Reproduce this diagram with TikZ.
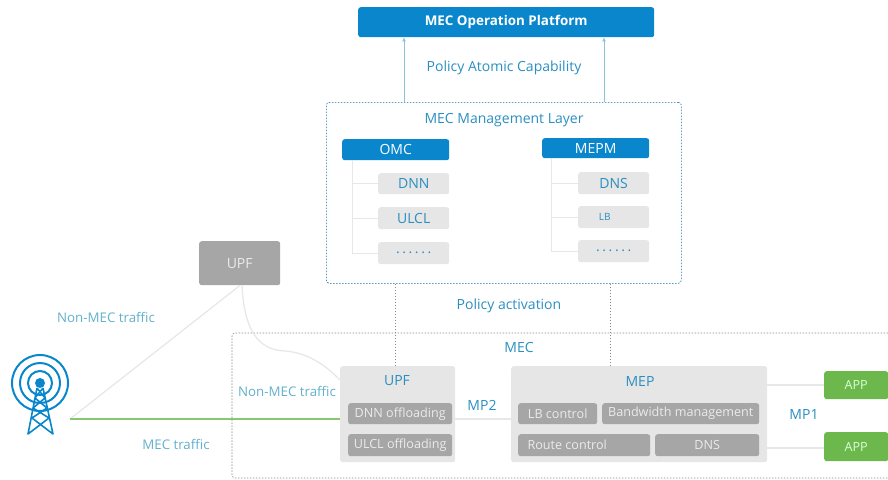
\documentclass[tikz,border=0pt]{standalone}
\usepackage{fontspec}
\usetikzlibrary{arrows.meta}
\setmainfont{Open Sans}
\definecolor{blueA}{HTML}{0A87CC}
\definecolor{labelA}{HTML}{2A8FC0}
\definecolor{labelB}{HTML}{62B0CC}
\definecolor{greyA}{HTML}{E6E6E6}
\definecolor{greyB}{HTML}{A6A6A6}
\definecolor{greenA}{HTML}{6CB84C}
\definecolor{lineA}{HTML}{E6E8E8}
\definecolor{dashA}{HTML}{8A8A8A}
\newcommand{\bx}[7]{\node[#6,anchor=north west,minimum width=#4pt-#2pt,minimum height=#5pt-#3pt,inner sep=0pt] (#1) at (#2,#3) {#7};}
\newcommand{\sixdots}{.\hspace{2.6pt}.\hspace{2.6pt}.\hspace{2.6pt}.\hspace{2.6pt}.\hspace{2.6pt}.}
\tikzset{
  x=1pt,y=-1pt,
  every node/.style={font=\fontsize{14}{16}\selectfont},
  blueBox/.style={fill=blueA,rounded corners=2.5pt,text=white},
  lightBox/.style={fill=greyA,rounded corners=2.5pt,text=labelA},
  midBox/.style={fill=greyB,rounded corners=2.5pt,text=white!92!black},
  smallText/.style={font=\fontsize{12.6}{15}\selectfont},
  appBox/.style={fill=greenA,rounded corners=2.5pt,text=white!85!green},
  lbl/.style={text=labelA},
  lblB/.style={text=labelB,font=\fontsize{13.3}{15}\selectfont},
  thin line/.style={draw=lineA,line width=0.8pt},
  conn/.style={draw=lineA,line width=1.3pt},
  mgmtdash/.style={draw=blueA!80!black,dash pattern=on 1.5pt off 1.5pt,line width=0.6pt,rounded corners=3pt},
  mecdash/.style={draw=dashA,dash pattern=on 1.5pt off 1.5pt,line width=0.6pt},
  tw/.style={draw=blueA,line width=2pt},
}
\begin{document}
\begin{tikzpicture}
\useasboundingbox (0,0) rectangle (888,479);
% MEC container
\node[coordinate] (mecTL) at (232,333) {};
\node[coordinate] (mecBL) at (232,478) {};
\draw[mecdash,rounded corners=3pt] (888,333) -- (mecTL) -- (mecBL) -- (888,478);
% Platform
\bx{platform}{358}{7}{654}{37}{blueBox,font=\fontsize{13.4}{16}\selectfont}{\bfseries MEC Operation Platform}
% Management layer
\bx{mgmt}{326}{102}{681}{283}{mgmtdash}{}
\node[lbl] (mgmtT) at (504,120) {MEC Management Layer};
\node[lbl] (pac) at (504,68) {Policy Atomic Capability};
\coordinate (a1) at (404,0);
\coordinate (a2) at (604,0);
\draw[draw=labelA!55,line width=1pt,-{Latex[length=4pt,width=4pt]}] (a1 |- mgmt.north) -- (a1 |- platform.south);
\draw[draw=labelA!55,line width=1pt,-{Latex[length=4pt,width=4pt]}] (a2 |- mgmt.north) -- (a2 |- platform.south);
% OMC column
\bx{omc}{342}{139}{449}{160}{blueBox}{OMC}
\bx{dnn}{378}{173}{449}{194}{lightBox}{DNN}
\bx{ulcl}{378}{207}{449}{229}{lightBox}{ULCL}
\bx{dotsA}{378}{242}{449}{264}{lightBox}{\sixdots}
\coordinate (t1) at (352,0);
\draw[thin line] (t1 |- omc.south) |- (dotsA.west);
\draw[thin line] (t1 |- dnn.west) -- (dnn.west);
\draw[thin line] (t1 |- ulcl.west) -- (ulcl.west);
% MEPM column
\bx{mepm}{542}{138}{649}{158}{blueBox}{MEPM}
\bx{dns}{578}{172}{649}{194}{lightBox}{DNS}
\bx{lb}{578}{206}{649}{228}{lightBox}{\hspace*{-18pt}\fontsize{10}{12}\selectfont LB}
\bx{dotsB}{578}{240}{649}{262}{lightBox}{\sixdots}
\coordinate (t2) at (551,0);
\draw[thin line] (t2 |- mepm.south) |- (dotsB.west);
\draw[thin line] (t2 |- dns.west) -- (dns.west);
\draw[thin line] (t2 |- lb.west) -- (lb.west);
% Policy activation
\node[lbl] (pa) at (509,306) {Policy activation};
% Lower boxes
\bx{upfTop}{199}{241}{280}{285}{midBox}{UPF}
\bx{upf}{340}{366}{455}{462}{fill=greyA,rounded corners=2.5pt}{}
\node[lbl] (upfT) at (397,381) {UPF};
\bx{dnnOff}{348}{403}{452}{424}{midBox,smallText}{DNN offloading}
\bx{ulclOff}{348}{434}{452}{456}{midBox,smallText}{ULCL offloading}
\bx{mep}{511}{366}{767}{462}{fill=greyA,rounded corners=2.5pt}{}
\node[lbl] (mepT) at (640,381) {MEP};
\bx{lbc}{518}{403}{597}{424}{midBox,smallText}{LB control}
\bx{bw}{602}{403}{759}{424}{midBox,smallText}{Bandwidth management}
\bx{route}{518}{434}{650}{456}{midBox,smallText}{\hspace*{-34pt}Route control}
\bx{dnsB}{655}{434}{759}{456}{midBox,smallText}{DNS}
\bx{app1}{824}{371}{888}{399}{appBox,smallText}{APP}
\bx{app2}{824}{432}{888}{461}{appBox,smallText}{APP}
% Dashed links
\coordinate (d1) at (395,0);
\coordinate (d2) at (610,0);
\draw[mecdash] (d1 |- mgmt.south) -- (d1 |- upf.north);
\draw[mecdash] (d2 |- mgmt.south) -- (d2 |- mep.north);
% Interfaces
\coordinate (y1) at (0,419);
\coordinate (y2) at (0,385);
\coordinate (y3) at (0,448);
\draw[conn] (upf.east |- y1) -- (mep.west |- y1);
\draw[conn] (mep.east |- y2) -- (app1.west |- y2);
\draw[conn] (mep.east |- y3) -- (app2.west |- y3);
\node[lbl] (mp2) at (482,405) {MP2};
\node[lbl] (mp1) at (804,414) {MP1};
\node[lbl] (mecL) at (519,347) {MEC};
% Traffic
\coordinate (bs) at (70,419);
\coordinate (uc) at (240,0);
\coordinate (uc2) at (242,0);
\coordinate (ue) at (340,380);
\draw[conn] (bs) -- (uc |- upfTop.south);
\draw[conn] (uc2 |- upfTop.south) .. controls (244,325) and (255,350) .. (285,351) .. controls (312,353) and (330,370) .. (ue);
\draw[draw=greenA!80,line width=1.5pt] (bs) -- (upf.west |- bs);
\node[lblB] (nm1) at (106,317) {Non-MEC traffic};
\node[lblB] (nm2) at (287,391) {Non-MEC traffic};
\node[lblB] (mt) at (176,444) {MEC traffic};
% Tower
\coordinate (tc) at (40,383);
\draw[tw] (tc) circle (28);
\draw[tw] (tc) circle (20);
\draw[tw] (tc) circle (12);
\fill[blueA] (tc) circle (5);
\draw[blueA,line width=1.6pt,line join=round] (37,388) -- (28,434) -- (49,418) -- (33,408) -- (45,398) -- (37,388)
  (43,388) -- (53,434) -- (32,418) -- (47,408) -- (35,398) -- (43,388);
\end{tikzpicture}
\end{document}
